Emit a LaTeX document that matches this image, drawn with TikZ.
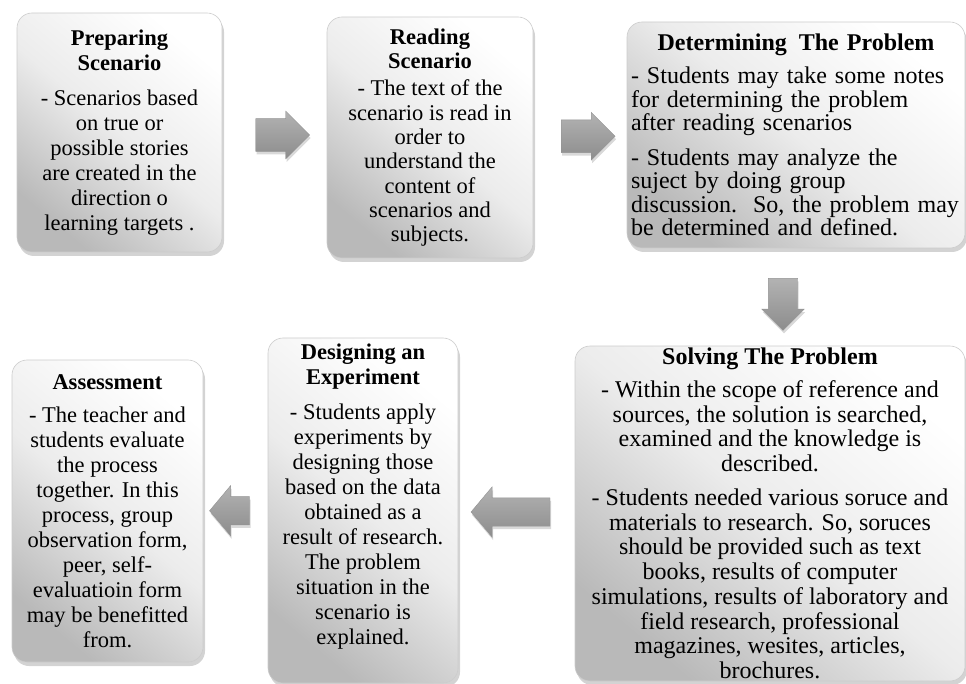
\documentclass[tikz,border=0pt]{standalone}
\usepackage{fontspec}
\setmainfont{Liberation Serif}
\usetikzlibrary{calc,shapes.arrows,shadows}

\tikzset{
  stage/.style={draw=gray!40, line width=0.6pt, rounded corners=15pt,
    top color=white, bottom color=gray!55, middle color=gray!15, shading angle=-40,
    drop shadow={opacity=0.35, shadow xshift=2pt, shadow yshift=-4pt},
    align=center, inner sep=2pt, font=\fontsize{22.5}{25}\selectfont},
  stagetext/.style={align=center, inner sep=0pt, font=\fontsize{22.5}{25}\selectfont},
  flow/.style={single arrow, draw=gray!85, top color=gray!60, bottom color=gray!90,
    single arrow head extend=7.5pt, single arrow tip angle=90, inner sep=0pt,
    minimum height=54pt, minimum width=48pt, text height=16pt, text depth=16pt,
    drop shadow={opacity=0.3, shadow xshift=1pt, shadow yshift=-3pt}},
}

\begin{document}
\begin{tikzpicture}[x=1pt,y=-1pt]
  \useasboundingbox (0,0) rectangle (966,684);

  % upper row
  \node[stage, minimum width=205pt, minimum height=239pt] (prepare) at (119.5,132.5)
    {\textbf{Preparing}\\\textbf{Scenario}\\[10pt]
     - Scenarios based\\on true or\\possible  stories\\are created in the\\direction o\\learning targets .};
  \node[stage, minimum width=206pt, minimum height=241pt, font=\fontsize{22.5}{24.3}\selectfont] (reading) at (430,137.5)
    {\textbf{Reading}\\\textbf{Scenario}\\[3pt]
     - The text of the\\scenario is read in\\order to\\understand the\\content of\\scenarios and\\subjects.};
  \node[stage, align=left, text width=330pt, minimum width=338pt, minimum height=226pt,
        font=\fontsize{24}{23.5}\selectfont] (determine) at (796,135)
    {\makebox[\linewidth]{\bfseries Determining\,\ The Problem}\\[10pt]
     - Students may take some notes\\for determining the problem\\after reading scenarios\\[11pt]
     - Students may analyze the\\suject by doing group\\discussion.\ \ So, the problem may\\be determined and defined.};

  % lower row
  \node[stage, minimum width=390pt, minimum height=333pt,
        font=\fontsize{24}{24.75}\selectfont] (solving) at (770,513.5)
    {\textbf{Solving The Problem}\\[8pt]
     - Within the scope of reference and\\sources, the solution is searched,\\examined and the knowledge is\\described.\\[9pt]
     - Students needed various soruce and\\materials to research. So, soruces\\should be provided such as text\\books, results of computer\\simulations, results of laboratory and\\field research, professional\\magazines, wesites, articles,\\brochures.};
  \node[stage, minimum width=190pt, minimum height=345pt] (designing) at (363,510.5) {};
  \node[stagetext] (designing-text) at ([yshift=14pt]designing.center)
    {\textbf{Designing an}\\\textbf{Experiment}\\[10pt]
     - Students apply\\experiments by\\designing those\\based on the data\\obtained as a\\result of research.\\The problem\\situation in the\\scenario is\\explained.};
  \node[stage, minimum width=191pt, minimum height=302pt] (assess) at (107.5,511)
    {\textbf{Assessment}\\[8pt]
     - The teacher and\\students evaluate\\the process\\together. In this\\process, group\\observation form,\\peer, self-\\evaluatioin form\\may be benefitted\\from.};

  % block arrows between the stages
  \node[flow] (ar1) at ($(prepare.east)!0.5!(reading.west)$) {};
  \node[flow] (ar2) at ($(reading.east)!0.5!(determine.west)$) {};
  \node[flow, shape border rotate=270, minimum height=52pt, minimum width=42pt,
        text width=29pt, text height=0pt, text depth=0pt, single arrow head extend=6.5pt] (ar3)
    at ($(determine.south)!0.5!(solving.north)$) {};
  \node[flow, shape border rotate=180, minimum height=79pt, minimum width=50pt,
        text height=14pt, text depth=14pt, single arrow head extend=11pt, single arrow tip angle=100] (ar4)
    at ($(designing.east)!0.5!(solving.west)$) {};
  \node[flow, shape border rotate=180, minimum height=40pt, minimum width=50pt,
        text height=14pt, text depth=14pt, single arrow head extend=11pt, single arrow tip angle=100] (ar5)
    at ($(assess.east)!0.5!(designing.west)$) {};
\end{tikzpicture}
\end{document}
